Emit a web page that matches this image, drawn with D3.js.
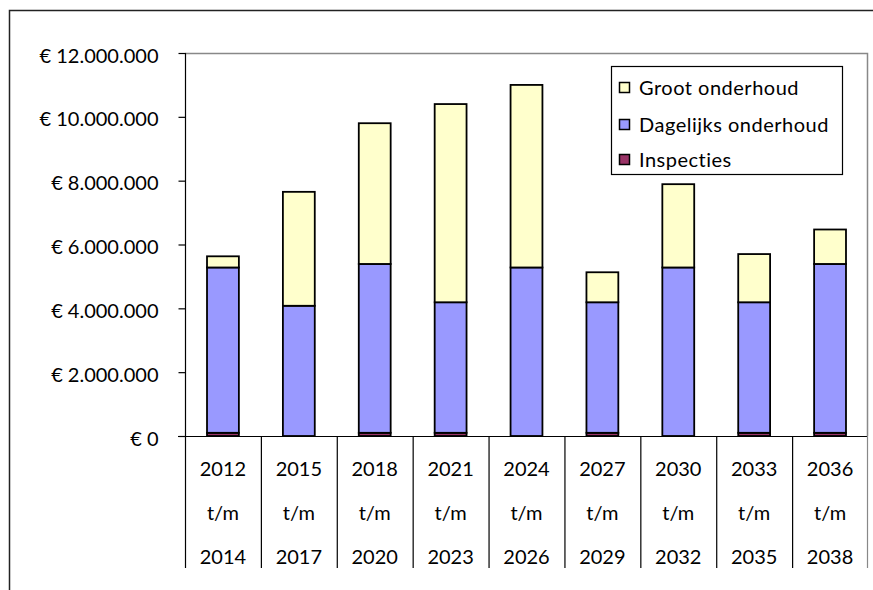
<!DOCTYPE html>
<html>
  <head>
    <meta charset="utf-8">
    <title>Onderhoudskosten</title>
    <script src="https://cdn.jsdelivr.net/npm/d3@7/dist/d3.min.js"></script>
    <style>
      body {
        margin: 0;
        background: white;
      }
      svg {
        display: block;
        font-family: Lato, "Open Sans", sans-serif;
        font-variant-ligatures: none;
      }
    </style>
  </head>
  <body>
    <script>
    // periods (three lines in the category table)
    var periodStart = ["2012", "2015", "2018", "2021", "2024", "2027", "2030", "2033", "2036"];
    var periodEnd = ["2014", "2017", "2020", "2023", "2026", "2029", "2032", "2035", "2038"];

    // series, in euro
    var inspecties = [100000, 0, 100000, 100000, 0, 100000, 0, 100000, 100000];
    var dagelijks = [5180000, 4080000, 5290000, 4090000, 5280000, 4090000, 5280000, 4090000, 5290000];
    var groot = [350000, 3570000, 4410000, 6210000, 5720000, 940000, 2610000, 1510000, 1080000];

    var seriesNames = ["Inspecties", "Dagelijks onderhoud", "Groot onderhoud"];
    var seriesKeys = ["insp", "dag", "groot"];
    var seriesColors = ["#993366", "#9999FF", "#FFFFCC"];

    var yTicks = [0, 2000000, 4000000, 6000000, 8000000, 10000000, 12000000];

    var W = 873, H = 590;
    var plotLeft = 185, plotRight = 868, plotTop = 53, plotBottom = 436, tableBottom = 568;

    var rows = periodStart.map(function (p, i) {
      return { cat: p, insp: inspecties[i], dag: dagelijks[i], groot: groot[i] };
    });

    var svg = d3.select("body").append("svg")
      .attr("width", W)
      .attr("height", H);

    // outer frame
    svg.append("path")
      .attr("d", "M9.5," + (H + 2) + "V10.5H" + (W + 2))
      .attr("fill", "none")
      .attr("stroke", "#222")
      .attr("stroke-width", 1.5);

    var x = d3.scaleBand()
      .domain(periodStart)
      .range([plotLeft, plotRight])
      .padding(0);

    var y = d3.scaleLinear()
      .domain([0, 12000000])
      .range([plotBottom, plotTop]);

    // plot area border (grey, top and right)
    svg.append("path")
      .attr("d", "M" + plotLeft + "," + (plotTop + 0.5) + "H" + (plotRight - 0.5) + "V" + plotBottom)
      .attr("fill", "none")
      .attr("stroke", "#888")
      .attr("stroke-width", 1.5);

    // y axis
    var fmt = function (v) {
      if (v === 0) return "€ 0";
      return "€ " + d3.format(",")(v).replace(/,/g, ".");
    };
    var yAxis = svg.append("g")
      .attr("transform", "translate(" + (plotLeft + 0.5) + ",0)")
      .call(d3.axisLeft(y).tickValues(yTicks).tickSize(7).tickPadding(20).tickFormat(fmt));
    yAxis.selectAll("path, line").attr("stroke", "#000").attr("stroke-width", 1.2);
    yAxis.select(".domain").attr("d", "M0," + plotTop + "V" + plotBottom);
    yAxis.selectAll("text")
      .attr("font-size", 20)
      .attr("fill", "#000")
      .attr("dy", "0.45em")
      .attr("font-family", "Lato, sans-serif");

    // stacked bars
    var stack = d3.stack().keys(seriesKeys);
    var layers = stack(rows);
    var bw = x.bandwidth() * 0.42;

    svg.append("g").selectAll("g")
      .data(layers)
      .join("g")
      .attr("fill", function (d, i) { return seriesColors[i]; })
      .selectAll("rect")
      .data(function (d) { return d.filter(function (s) { return s[1] - s[0] > 0; }); })
      .join("rect")
      .attr("x", function (d) { return x(d.data.cat) + (x.bandwidth() - bw) / 2; })
      .attr("y", function (d) { return y(d[1]); })
      .attr("width", bw)
      .attr("height", function (d) { return y(d[0]) - y(d[1]); })
      .attr("stroke", "#000")
      .attr("stroke-width", 1.8);

    // category table
    var table = svg.append("g");
    table.append("line")
      .attr("x1", plotLeft - 7).attr("x2", plotRight)
      .attr("y1", plotBottom + 0.5).attr("y2", plotBottom + 0.5)
      .attr("stroke", "#000").attr("stroke-width", 1.2);

    var bounds = periodStart.map(function (p) { return x(p); }).concat([plotRight]);
    table.selectAll("line.sep")
      .data(bounds)
      .join("line")
      .attr("class", "sep")
      .attr("x1", function (d, i) { return i === bounds.length - 1 ? d - 0.5 : d + 0.5; })
      .attr("x2", function (d, i) { return i === bounds.length - 1 ? d - 0.5 : d + 0.5; })
      .attr("y1", plotBottom)
      .attr("y2", tableBottom)
      .attr("stroke", function (d, i) { return i === bounds.length - 1 ? "#888" : "#000"; })
      .attr("stroke-width", 1.2);

    var lineY = [469, 513, 557];
    periodStart.forEach(function (p, i) {
      var cx = x(p) + x.bandwidth() / 2;
      [p, "t/m", periodEnd[i]].forEach(function (t, j) {
        table.append("text")
          .attr("x", cx)
          .attr("y", lineY[j])
          .attr("dy", "0.36em")
          .attr("text-anchor", "middle")
          .attr("font-size", 20)
          .attr("fill", "#000")
          .text(t);
      });
    });

    // legend
    var legend = svg.append("g");
    legend.append("rect")
      .attr("x", 611.5).attr("y", 66.5)
      .attr("width", 231).attr("height", 108)
      .attr("fill", "white")
      .attr("stroke", "#000")
      .attr("stroke-width", 1.2);

    var legendY = [88, 125, 160];
    var order = [2, 1, 0];
    order.forEach(function (s, j) {
      legend.append("rect")
        .attr("x", 619.5).attr("y", legendY[j] - 5.5)
        .attr("width", 10).attr("height", 10)
        .attr("fill", seriesColors[s])
        .attr("stroke", "#000")
        .attr("stroke-width", 1.5);
      legend.append("text")
        .attr("x", 639)
        .attr("y", legendY[j])
        .attr("dy", "0.36em")
        .attr("font-size", 20)
        .attr("letter-spacing", 0.5)
        .attr("fill", "#000")
        .text(seriesNames[s]);
    });
    </script>
  </body>
</html>
